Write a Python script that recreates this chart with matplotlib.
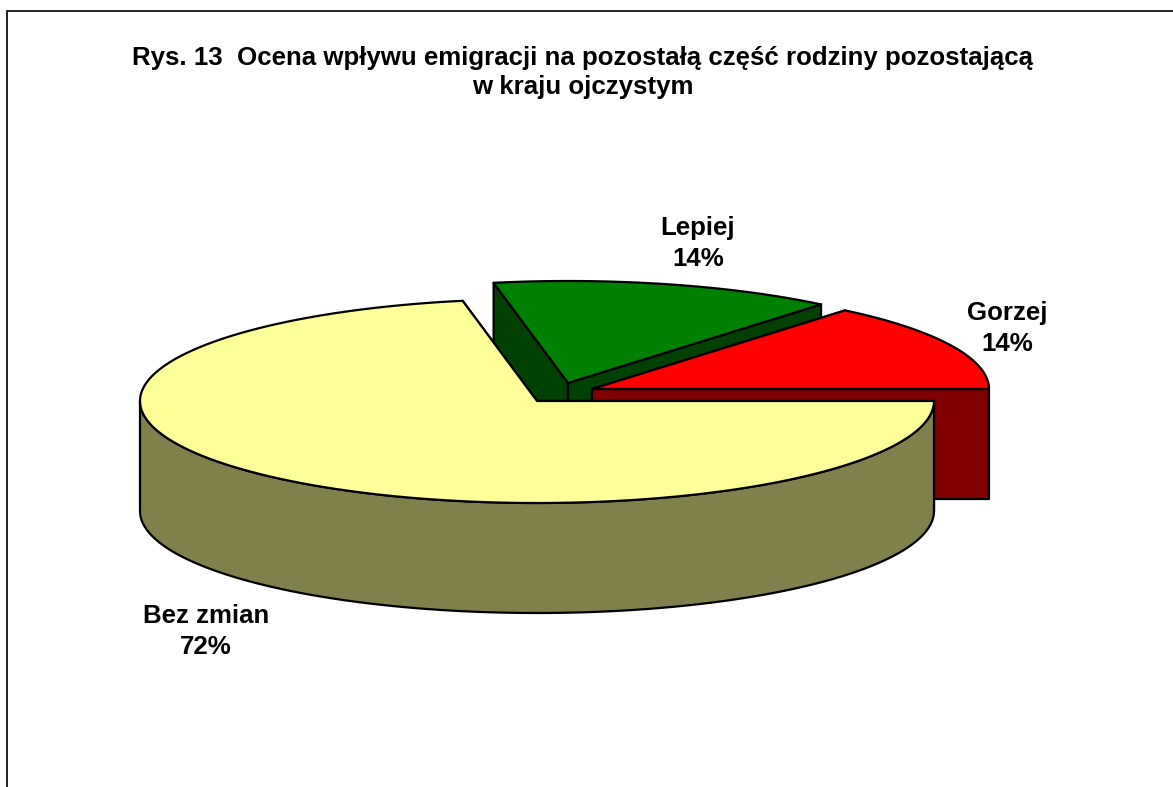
import matplotlib
matplotlib.use('Agg')
import matplotlib.pyplot as plt
import numpy as np

# dane z wykresu
categories = ['Bez zmian', 'Lepiej', 'Gorzej']
shares = [72, 14, 14]
title = 'Rys. 13  Ocena wpływu emigracji na pozostałą część rodziny pozostającą\nw kraju ojczystym'

plt.rcParams['font.family'] = ['Liberation Sans', 'DejaVu Sans']

# geometria pseudo-3D w pikselach
CX, CY = 537, 401
RX, RY = 397, 102
DEPTH = 110
LW = 1.6
top_colors = {'Bez zmian': '#FFFF99', 'Lepiej': '#008000', 'Gorzej': '#FF0000'}
side_colors = {'Bez zmian': '#80804D', 'Lepiej': '#004000', 'Gorzej': '#800000'}
explode = {'Bez zmian': (0, 0), 'Lepiej': (31, -18), 'Gorzej': (55, -12)}
label_pos = {'Bez zmian': (206, 631.5), 'Lepiej': (698, 243.5), 'Gorzej': (1007, 328.5)}
draw_order = ['Lepiej', 'Gorzej', 'Bez zmian']

fig = plt.figure(figsize=(11.73, 7.87), dpi=100)
ax = fig.add_axes([0, 0, 1, 1])
ax.set_xlim(0, 1173)
ax.set_ylim(787, 0)
ax.axis('off')

# ramka wykresu (prawa i dolna krawedz poza kadrem)
ax.plot([6.5, 6.5, 1173], [787, 11, 11], color='#222222', lw=1.4, solid_joinstyle='miter')

# katy wycinkow liczone z udzialow, zgodnie z ruchem wskazowek od godz. 3
angles = {}
start = 0.0
for cat, val in zip(categories, shares):
    angles[cat] = (start, start + val * 3.6)
    start += val * 3.6


def poly(ax, xs, ys, color, z):
    ax.fill(xs, ys, facecolor=color, edgecolor='black', lw=LW, joinstyle='round', zorder=z)


z = 2
for cat in draw_order:
    a0, a1 = angles[cat]
    dx, dy = explode[cat]
    cx, cy = CX + dx, CY + dy
    # sciany przekroju
    for a in (a0, a1):
        ex = cx + RX * np.cos(np.radians(a))
        ey = cy + RY * np.sin(np.radians(a))
        poly(ax, [cx, ex, ex, cx], [cy, ey, ey + DEPTH, cy + DEPTH], side_colors[cat], z)
        z += 1
    # sciana boczna, tylko przednia polowa elipsy
    lo, hi = max(a0, 0), min(a1, 180)
    if hi > lo:
        t = np.radians(np.linspace(lo, hi, 200))
        xs = cx + RX * np.cos(t)
        ys = cy + RY * np.sin(t)
        poly(ax, np.r_[xs, xs[::-1]], np.r_[ys, ys[::-1] + DEPTH], side_colors[cat], z)
        z += 1
    # gorna powierzchnia
    t = np.radians(np.linspace(a0, a1, 200))
    poly(ax, np.r_[cx, cx + RX * np.cos(t)], np.r_[cy, cy + RY * np.sin(t)], top_colors[cat], z)
    z += 1

# etykiety
for cat, val in zip(categories, shares):
    x, y = label_pos[cat]
    ax.text(x, y, f'{cat}\n{val}%', ha='center', va='center', fontsize=18.6,
            fontweight='bold', linespacing=1.41, color='black', zorder=z)

ax.text(582.5, 72.5, title, ha='center', va='center', fontsize=18.6, fontweight='bold',
        linespacing=1.28, color='black')

plt.savefig('out.png', dpi=100)
plt.close()
